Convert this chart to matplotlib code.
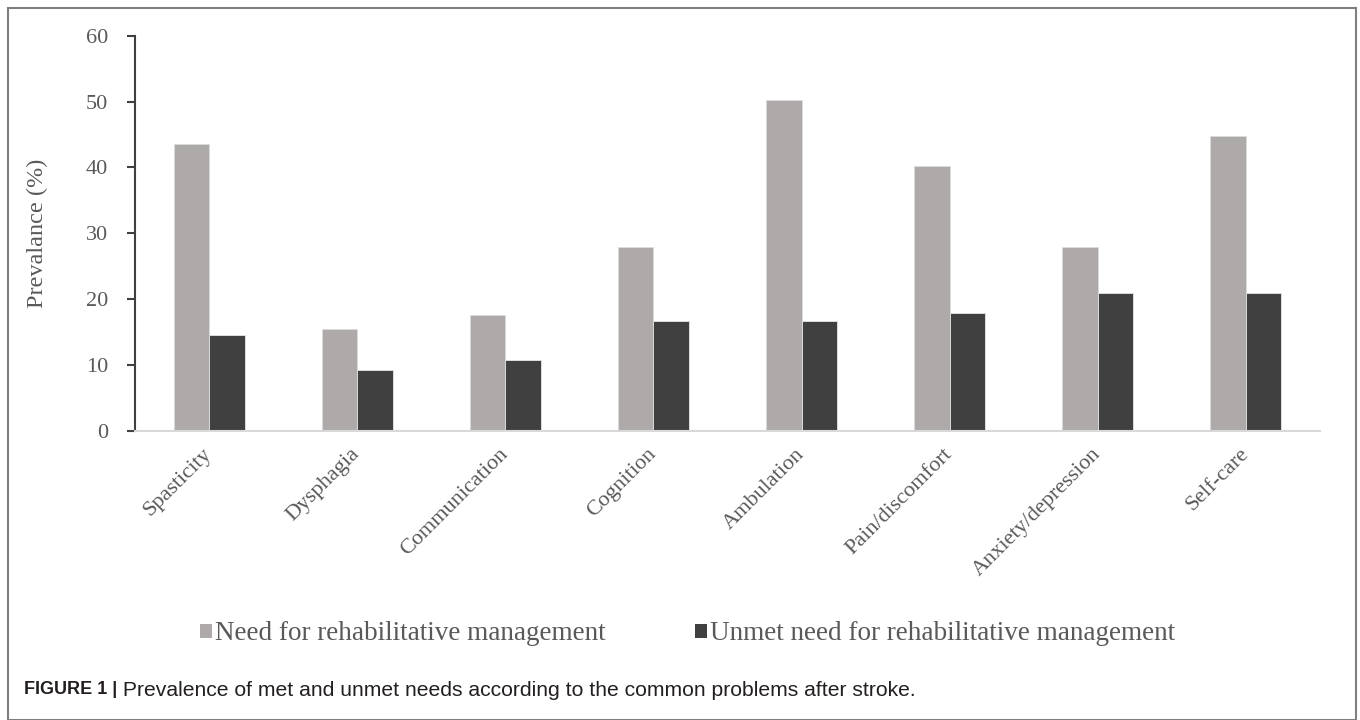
import matplotlib
matplotlib.use("Agg")
import matplotlib.pyplot as plt
from matplotlib.patches import Patch, Rectangle
import numpy as np

categories = ["Spasticity", "Dysphagia", "Communication", "Cognition",
              "Ambulation", "Pain/discomfort", "Anxiety/depression", "Self-care"]
need = [43.5, 15.4, 17.5, 27.9, 50.2, 40.2, 27.9, 44.8]
unmet = [14.6, 9.2, 10.8, 16.7, 16.7, 17.9, 20.9, 20.9]
series_names = ["Need for rehabilitative management",
                "Unmet need for rehabilitative management"]
yticks = [0, 10, 20, 30, 40, 50, 60]
caption_bold = "FIGURE 1 |"
caption_text = " Prevalence of met and unmet needs according to the common problems after stroke."

GRAY = "#aeaaaa"
DARK = "#404040"
TXT = "#595959"
SERIF = ["Liberation Serif", "DejaVu Serif"]
SANS = ["Liberation Sans", "DejaVu Sans"]

fig = plt.figure(figsize=(13.6, 7.2), dpi=100)
ax = fig.add_axes([135/1360, 1-430.7/720, 1185/1360, 395/720])

x = np.arange(len(categories))
w = 0.24
ax.bar(x - w/2, need, width=w, color=GRAY, edgecolor="#dcdcdc", linewidth=0.6)
ax.bar(x + w/2, unmet, width=w, color=DARK, edgecolor="#e6e6e6", linewidth=0.6)

ax.set_xlim(-0.5, len(categories) - 0.5)
ax.set_ylim(0, 60)
ax.set_yticks(yticks)
ax.set_yticklabels([str(t) for t in yticks], fontfamily=SERIF, fontsize=16, color=TXT)
ax.set_xticks(x)
ax.set_xticklabels(categories, fontfamily=SERIF, fontsize=16, color=TXT,
                   rotation=45, ha="right", va="center", rotation_mode="anchor")
ax.tick_params(axis="x", length=0, pad=15)
ax.tick_params(axis="y", length=6, width=1.5, color="#404040", pad=13.5, direction="out")

for s in ["top", "right"]:
    ax.spines[s].set_visible(False)
ax.spines["left"].set_color("#404040")
ax.spines["left"].set_linewidth(1.5)
ax.spines["bottom"].set_color("#d9d9d9")
ax.spines["bottom"].set_linewidth(1.5)

ax.set_ylabel("Prevalance (%)", fontfamily=SERIF, fontsize=17.5, color=TXT)
ax.yaxis.set_label_coords((48 - 135) / 1185, 0.5)

handles = [Patch(facecolor=GRAY, edgecolor="none"), Patch(facecolor=DARK, edgecolor="none")]
leg = fig.legend(handles, series_names, loc="center", bbox_to_anchor=(687.5/1360, 1-634/720),
                 ncol=2, frameon=False, prop={"family": SERIF, "size": 19.5},
                 handlelength=0.45, handleheight=0.45, handletextpad=0.1, columnspacing=3.3)
for t in leg.get_texts():
    t.set_color(TXT)

# figure border
fig.patches.append(Rectangle((8/1360, 0), (1356-8)/1360, 1-8/720, transform=fig.transFigure,
                             fill=False, edgecolor="#7f7f7f", linewidth=1.5))

t1 = fig.text(24/1360, 1-690/720, caption_bold, fontfamily=SANS, fontweight="bold",
              fontsize=13, color="#231f20", va="center", ha="left")
ax.annotate(caption_text, xy=(1, 0.5), xycoords=t1, va="center", ha="left",
            fontfamily=SANS, fontsize=15.2, color="#231f20", annotation_clip=False)

fig.savefig("out.png", dpi=100)
